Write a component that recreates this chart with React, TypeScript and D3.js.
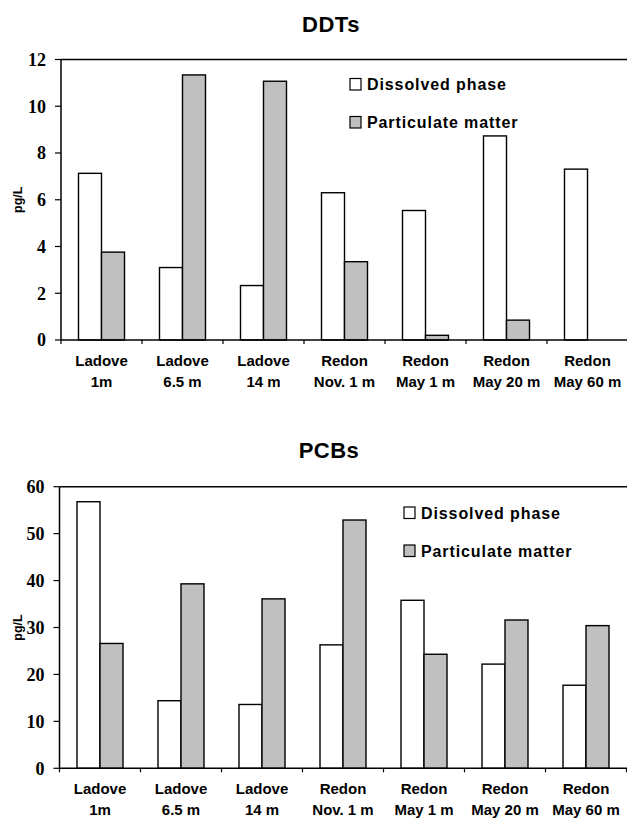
import React from "react";
import * as d3 from "d3";

const categories = [
  ["Ladove", "1m"],
  ["Ladove", "6.5 m"],
  ["Ladove", "14 m"],
  ["Redon", "Nov. 1 m"],
  ["Redon", "May 1 m"],
  ["Redon", "May 20 m"],
  ["Redon", "May 60 m"],
];
const seriesNames = ["Dissolved phase", "Particulate matter"];
const seriesColors = ["#ffffff", "#c0c0c0"];

const ddtDissolved = [7.13, 3.1, 2.33, 6.3, 5.54, 8.73, 7.31];
const ddtParticulate = [3.76, 11.34, 11.07, 3.35, 0.2, 0.85, 0];
const ddtTicks = [0, 2, 4, 6, 8, 10, 12];

const pcbDissolved = [56.8, 14.4, 13.6, 26.3, 35.8, 22.2, 17.7];
const pcbParticulate = [26.6, 39.3, 36.1, 52.9, 24.3, 31.6, 30.4];
const pcbTicks = [0, 10, 20, 30, 40, 50, 60];

type PanelProps = {
  title: string;
  top: number;
  bottom: number;
  titleY: number;
  titleX: number;
  dissolved: number[];
  particulate: number[];
  ticks: number[];
  left: number;
  legendX: number;
  legendY: number;
};

function Panel(p: PanelProps) {
  const right = p.left + 81 * 7;
  const x = d3
    .scaleBand<number>()
    .domain(d3.range(categories.length))
    .range([p.left, right]);
  const y = d3
    .scaleLinear()
    .domain([0, p.ticks[p.ticks.length - 1]])
    .range([p.bottom, p.top]);
  const barW = 23;
  const series = [p.dissolved, p.particulate];
  const font = "'Liberation Sans', Arial, sans-serif";
  return (
    <g>
      <text
        x={p.titleX}
        y={p.titleY}
        textAnchor="middle"
        fontFamily={font}
        fontWeight="bold"
        fontSize={22}
        letterSpacing={0.5}
      >
        {p.title}
      </text>
      {series.map((vals, si) =>
        vals.map((v, i) => {
          if (v <= 0) return null;
          const cx = (x(i) as number) + x.bandwidth() / 2;
          const bx = cx - barW + si * barW;
          return (
            <rect
              key={`${si}-${i}`}
              x={bx}
              y={y(v)}
              width={barW}
              height={y(0) - y(v)}
              fill={seriesColors[si]}
              stroke="#000"
              strokeWidth={1.4}
            />
          );
        })
      )}
      <line x1={p.left} x2={right + 2} y1={p.top} y2={p.top} stroke="#000" strokeWidth={1.5} />
      <line x1={p.left} x2={p.left} y1={p.top} y2={p.bottom} stroke="#000" strokeWidth={1.5} />
      <line x1={p.left} x2={right + 2} y1={p.bottom} y2={p.bottom} stroke="#000" strokeWidth={1.5} />
      {p.ticks.map((t) => (
        <g key={t}>
          <line x1={p.left - 6} x2={p.left} y1={y(t)} y2={y(t)} stroke="#000" strokeWidth={1.2} />
          <text
            x={p.left - 15}
            y={y(t)}
            dy="0.35em"
            textAnchor="end"
            fontFamily="'Liberation Serif', 'Times New Roman', serif"
            fontWeight="bold"
            fontSize={18}
          >
            {t}
          </text>
        </g>
      ))}
      {d3.range(categories.length + 1).map((i) => {
        const tx = p.left + i * x.step();
        return <line key={i} x1={tx} x2={tx} y1={p.bottom} y2={p.bottom + 4} stroke="#000" strokeWidth={1.2} />;
      })}
      {categories.map((c, i) => {
        const cx = (x(i) as number) + x.bandwidth() / 2;
        return (
          <text
            key={i}
            x={cx}
            textAnchor="middle"
            fontFamily={font}
            fontWeight="bold"
            fontSize={15}
          >
            <tspan x={cx} y={p.bottom + 26}>{c[0]}</tspan>
            <tspan x={cx} y={p.bottom + 47}>{c[1]}</tspan>
          </text>
        );
      })}
      <text
        transform={`translate(${18},${(p.top + p.bottom) / 2}) rotate(-90)`}
        textAnchor="middle"
        dy="0.35em"
        fontFamily={font}
        fontWeight="bold"
        fontSize={12.5}
      >
        pg/L
      </text>
      {seriesNames.map((n, i) => (
        <g key={n} transform={`translate(${p.legendX},${p.legendY + i * 38})`}>
          <rect x={0} y={-6} width={11} height={11.5} fill={seriesColors[i]} stroke="#000" strokeWidth={1.2} />
          <text x={17} y={0} dy="0.35em" fontFamily={font} fontWeight="bold" fontSize={16} letterSpacing={0.9}>
            {n}
          </text>
        </g>
      ))}
    </g>
  );
}

export default function App() {
  return (
    <svg
      width={627}
      height={818}
      style={{ position: "absolute", left: 0, top: 0, background: "#fff" }}
    >
      <rect width={627} height={818} fill="#fff" />
      <Panel
        title="DDTs"
        titleX={331}
        titleY={32}
        top={59.5}
        bottom={340}
        left={61}
        dissolved={ddtDissolved}
        particulate={ddtParticulate}
        ticks={ddtTicks}
        legendX={350}
        legendY={84.5}
      />
      <Panel
        title="PCBs"
        titleX={329}
        titleY={458}
        top={486.7}
        bottom={768.3}
        left={59.5}
        dissolved={pcbDissolved}
        particulate={pcbParticulate}
        ticks={pcbTicks}
        legendX={404}
        legendY={513}
      />
    </svg>
  );
}
